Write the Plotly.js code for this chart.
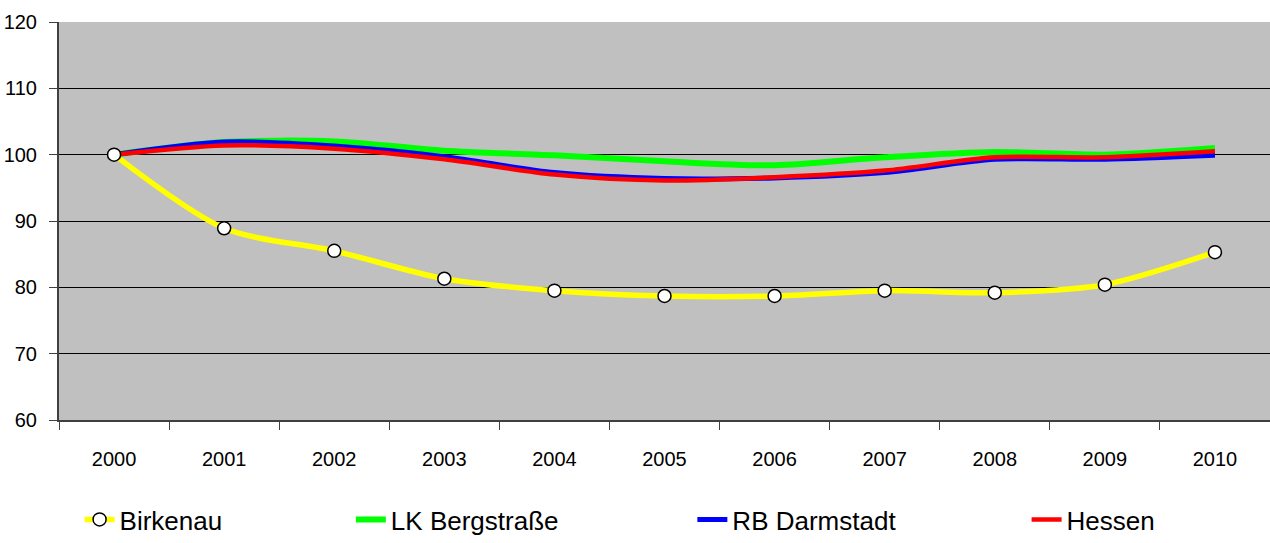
<!DOCTYPE html>
<html>
<head>
<meta charset="utf-8">
<script src="https://cdn.plot.ly/plotly-3.0.1.min.js"></script>
<style>html,body{margin:0;padding:0;background:#fff;}#chart{width:1270px;height:543px;}</style>
</head>
<body>
<div id="chart"></div>
<script>
const years = ['2000','2001','2002','2003','2004','2005','2006','2007','2008','2009','2010'];
const birkenau = [100, 88.9, 85.5, 81.3, 79.5, 78.7, 78.7, 79.5, 79.2, 80.4, 85.3];
const lkBergstrasse = [100, 101.9, 102.0, 100.6, 99.9, 99.0, 98.4, 99.6, 100.4, 100.0, 101.0];
const rbDarmstadt = [100, 101.9, 101.3, 99.7, 97.3, 96.4, 96.5, 97.3, 99.3, 99.3, 99.9];
const hessen = [100, 101.4, 100.9, 99.3, 97.0, 96.1, 96.6, 97.6, 99.6, 99.6, 100.5];
const seriesNames = ['Birkenau', 'LK Bergstraße', 'RB Darmstadt', 'Hessen'];
const yTicks = [60, 70, 80, 90, 100, 110, 120];

const FONT = '"Liberation Sans", Arial, sans-serif';

const traces = [
  {x: years, y: lkBergstrasse, name: seriesNames[1], mode: 'lines', type: 'scatter',
   line: {color: '#00FF00', width: 6, shape: 'spline', smoothing: 0.8}, legend: 'legend2'},
  {x: years, y: rbDarmstadt, name: seriesNames[2], mode: 'lines', type: 'scatter',
   line: {color: '#0000FF', width: 5, shape: 'spline', smoothing: 0.8}, legend: 'legend3'},
  {x: years, y: hessen, name: seriesNames[3], mode: 'lines', type: 'scatter',
   line: {color: '#FF0000', width: 4.5, shape: 'spline', smoothing: 0.8}, legend: 'legend4'},
  {x: years, y: birkenau, name: seriesNames[0], mode: 'lines+markers', type: 'scatter',
   line: {color: '#FFFF00', width: 5.5, shape: 'spline', smoothing: 0.8},
   marker: {symbol: 'circle', size: 13, color: '#FFFFFF', line: {color: '#000000', width: 1.5}},
   legend: 'legend'}
];

function leg(x) {
  return {x: x, xref: 'paper', y: -0.25, yanchor: 'middle', xanchor: 'left',
          orientation: 'h', bgcolor: 'rgba(0,0,0,0)', borderwidth: 0,
          font: {family: FONT, size: 26, color: '#000'}};
}

const layout = {
  width: 1270, height: 543,
  margin: {l: 59, r: 0, t: 22, b: 121},
  paper_bgcolor: '#FFFFFF',
  plot_bgcolor: '#C0C0C0',
  font: {family: FONT, size: 20, color: '#000'},
  showlegend: true,
  xaxis: {
    type: 'category', range: [-0.5, 10.5],
    tickson: 'boundaries', ticks: 'outside', ticklen: 8, tickcolor: '#404040', tickwidth: 1,
    showgrid: false, showline: true, linecolor: '#404040', linewidth: 2,
    ticklabelstandoff: 20, tickfont: {family: FONT, size: 20, color: '#000'}, zeroline: false
  },
  yaxis: {
    range: [60, 120], tickvals: yTicks, ticktext: yTicks.map(String),
    ticks: 'outside', ticklen: 8, tickcolor: '#404040', tickwidth: 1,
    showgrid: true, gridcolor: '#000000', gridwidth: 1,
    showline: true, linecolor: '#404040', linewidth: 2,
    ticklabelstandoff: 8, tickfont: {family: FONT, size: 20, color: '#000'}, zeroline: false
  },
  legend: leg(0.017),
  legend2: leg(0.241),
  legend3: leg(0.523),
  legend4: leg(0.799)
};

Plotly.newPlot('chart', traces, layout, {displayModeBar: false, staticPlot: true});
</script>
</body>
</html>
